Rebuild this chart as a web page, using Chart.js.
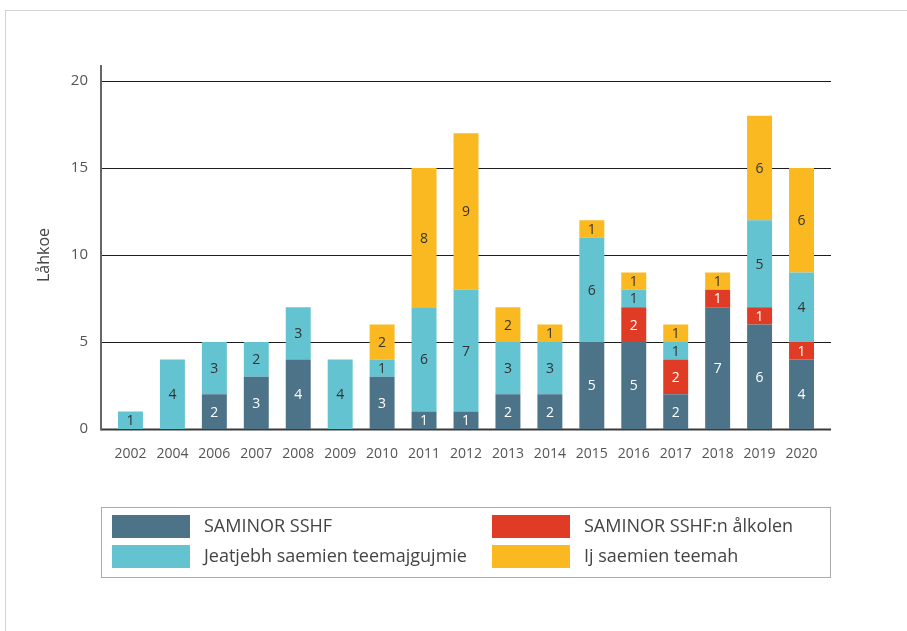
<!DOCTYPE html>
<html>
<head>
<meta charset="utf-8">
<script src="https://cdn.jsdelivr.net/npm/chart.js@4.4.1/dist/chart.umd.min.js"></script>
<style>
    html, body { margin: 0; padding: 0; background: #fff; }
    #wrap { position: relative; width: 907px; height: 631px; overflow: hidden; }
    #frame { position: absolute; left: 5px; top: 10px; right: -2px; bottom: -2px; border-top: 1px solid #d4d4d4; border-left: 1px solid #d4d4d4; }
    #legend { position: absolute; left: 101px; top: 507px; width: 730px; height: 71px; box-sizing: border-box; border: 1.5px solid #ababab; font-family: 'Open Sans', sans-serif; font-size: 18px; color: #444; }
    .item { position: absolute; height: 23px; line-height: 23px; white-space: nowrap; }
    .swatch { position: absolute; left: 0; top: 0; width: 78px; height: 23px; }
    .label { position: absolute; left: 92px; top: -1px; }
</style>
</head>
<body>
<div id="wrap">
    <div id="frame"></div>
    <canvas id="myChart" width="907" height="631"></canvas>
    <div id="legend"></div>
</div>
<script>
const years = ['2002', '2004', '2006', '2007', '2008', '2009', '2010', '2011', '2012', '2013', '2014', '2015', '2016', '2017', '2018', '2019', '2020'];
const saminor = [0, 0, 2, 3, 4, 0, 3, 1, 1, 2, 2, 5, 5, 2, 7, 6, 4];
const saminorAlkolen = [0, 0, 0, 0, 0, 0, 0, 0, 0, 0, 0, 0, 2, 2, 1, 1, 1];
const jeatjebh = [1, 4, 3, 2, 3, 4, 1, 6, 7, 3, 3, 6, 1, 1, 0, 5, 4];
const ijSaemien = [0, 0, 0, 0, 0, 0, 2, 8, 9, 2, 1, 1, 1, 1, 1, 6, 6];
const yTicks = [0, 5, 10, 15, 20];

const seriesNames = ['SAMINOR SSHF', 'SAMINOR SSHF:n ålkolen', 'Jeatjebh saemien teemajgujmie', 'Ij saemien teemah'];
const seriesColors = ['#4d7388', '#e03c25', '#63c3d1', '#fbb921'];
const labelColors = ['#ffffff', '#ffffff', '#333333', '#333333'];

Chart.defaults.font.family = "'Open Sans', sans-serif";

const gridLines = {
    id: 'gridLines',
    beforeDatasetsDraw(chart) {
        const { ctx, chartArea, scales: { y } } = chart;
        const left = chartArea.left - 8.5;
        const right = chartArea.right + 8.5;
        ctx.save();
        yTicks.forEach(v => {
            const py = Math.round(y.getPixelForValue(v)) + 0.5;
            ctx.strokeStyle = v === 0 ? '#3a3a3a' : '#1c1c1c';
            ctx.lineWidth = v === 0 ? 2 : 1.2;
            ctx.beginPath();
            ctx.moveTo(left, py);
            ctx.lineTo(right, py);
            ctx.stroke();
        });
        ctx.strokeStyle = '#666';
        ctx.lineWidth = 2;
        ctx.beginPath();
        ctx.moveTo(left, y.getPixelForValue(20) - 16);
        ctx.lineTo(left, y.getPixelForValue(0) + 1.5);
        ctx.stroke();
        ctx.restore();
    }
};

const barValues = {
    id: 'barValues',
    afterDatasetsDraw(chart) {
        const { ctx } = chart;
        ctx.save();
        ctx.font = '14px "Open Sans", sans-serif';
        ctx.textAlign = 'center';
        ctx.textBaseline = 'middle';
        chart.data.datasets.forEach((dataset, i) => {
            const meta = chart.getDatasetMeta(i);
            meta.data.forEach((bar, j) => {
                const value = dataset.data[j];
                if (!value) return;
                ctx.fillStyle = labelColors[i];
                ctx.fillText(value, bar.x, (bar.y + bar.base) / 2 + 1);
            });
        });
        ctx.restore();
    }
};

const seriesData = [saminor, saminorAlkolen, jeatjebh, ijSaemien];

new Chart(document.getElementById('myChart').getContext('2d'), {
    type: 'bar',
    data: {
        labels: years,
        datasets: seriesData.map((data, i) => ({
            label: seriesNames[i],
            data,
            backgroundColor: seriesColors[i],
            borderWidth: 0,
            barPercentage: 1,
            categoryPercentage: 0.595
        }))
    },
    options: {
        responsive: false,
        animation: false,
        layout: {
            padding: { left: 0, right: 84.5, top: 81, bottom: 0 }
        },
        plugins: {
            legend: { display: false },
            tooltip: { enabled: false }
        },
        scales: {
            x: {
                stacked: true,
                grid: { display: false, drawTicks: false },
                border: { display: false },
                ticks: { color: '#555', font: { size: 14 }, padding: 17, maxRotation: 0, autoSkip: false },
                afterFit: scale => { scale.height = 202; }
            },
            y: {
                stacked: true,
                min: 0,
                max: 20,
                grid: { display: false, drawTicks: false },
                border: { display: false },
                ticks: { stepSize: 5, color: '#555', font: { size: 15 }, padding: 21.5 },
                title: { display: true, text: 'Låhkoe', color: '#444', font: { size: 16 }, padding: { top: 35, bottom: 0 } },
                afterFit: scale => { scale.width = 109.5; }
            }
        }
    },
    plugins: [gridLines, barValues]
});

const legendBox = document.getElementById('legend');
const legendSpots = [[10, 7], [390, 7], [10, 37], [390, 37]];
seriesNames.forEach((name, i) => {
    const item = document.createElement('div');
    item.className = 'item';
    item.style.left = legendSpots[i][0] + 'px';
    item.style.top = legendSpots[i][1] + 'px';
    item.innerHTML = `<div class="swatch" style="background:${seriesColors[i]}"></div><div class="label">${name}</div>`;
    legendBox.appendChild(item);
});
</script>
</body>
</html>
